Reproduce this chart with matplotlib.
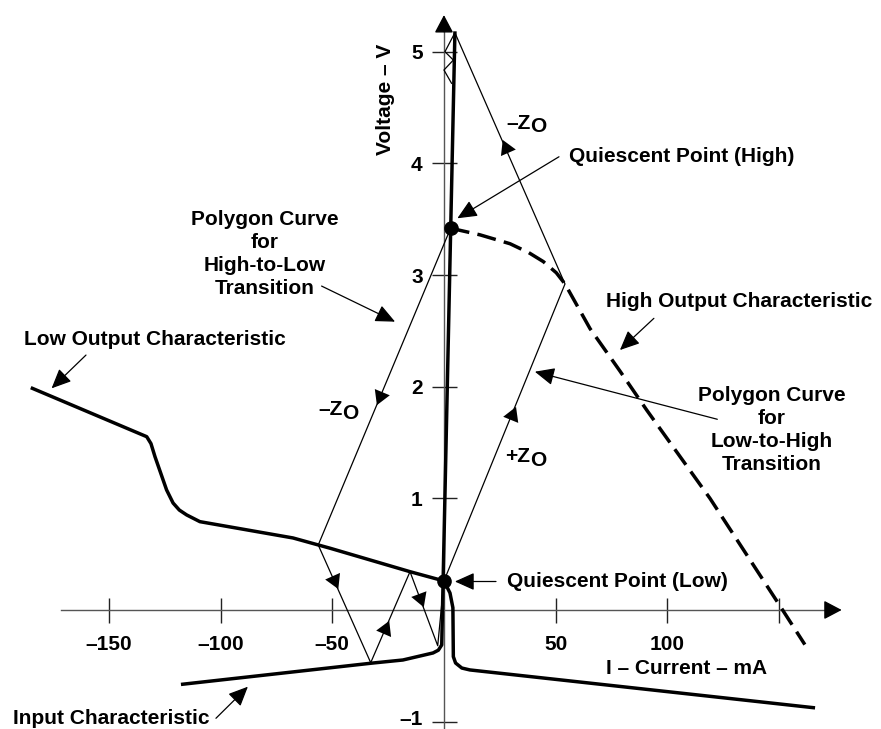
import numpy as np
import matplotlib.pyplot as plt
from matplotlib.transforms import ScaledTranslation

plt.rcParams['font.family'] = ['Liberation Sans', 'DejaVu Sans']
plt.rcParams['font.weight'] = 'bold'
plt.rcParams['font.size'] = 15

# I in mA, V in volts
low_i = [-184.3, -133.1, -131.2, -129.4, -124.2, -121.3, -118.5, -115.2, -109.3,
         -67.6, -51.0, -15.2, 0.0, 2.7, 4.0, 4.2, 5.2, 8.0, 11.6, 165.4]
low_v = [1.985, 1.552, 1.49, 1.373, 1.075, 0.958, 0.895, 0.851, 0.791,
         0.645, 0.553, 0.343, 0.26, 0.152, 0.02, -0.418, -0.475, -0.52, -0.537, -0.875]

inp_i = [-117.0, -31.8, -18.4, -4.9, -2.5, -1.0, 4.9]
inp_v = [-0.665, -0.475, -0.448, -0.385, -0.36, -0.313, 5.167]

high_i = [3.0, 7.2, 16.1, 29.6, 38.0, 44.5, 50.3, 54.2, 65.4, 78.8, 90.8, 119.1, 149.7, 161.6]
high_v = [3.42, 3.40, 3.36, 3.28, 3.20, 3.12, 3.02, 2.92, 2.52, 2.14, 1.79, 1.0, 0.06, -0.31]

q_low = (0.0, 0.26)
q_high = (3.0, 3.42)

# bounce polygons (load line slopes +/- Zo)
hl_i = [3.0, -56.3, -32.8, -15.2, -2.8, 0.0]
hl_v = [3.42, 0.582, -0.472, 0.343, -0.32, 0.26]
lh_i = [0.0, 54.2, 4.9, 0.45, 4.2, 0.0, 3.4]
lh_v = [0.26, 2.92, 5.17, 5.00, 4.925, 4.836, 4.717]

xticks = [-150, -100, -50, 50, 100, 150]
xlabels = ['\u2013150', '\u2013100', '\u201350', '50', '100', '']
yticks = [-1, 1, 2, 3, 4, 5]
ylabels = ['\u20131', '1', '2', '3', '4', '5']

fig = plt.figure(figsize=(8.81, 7.29), dpi=100)
ax = fig.add_axes([0, 0, 1, 1])
ax.set_xlim(-198.8, 195.7)
ax.set_ylim(-1.066, 5.463)

for s in ['top', 'right']:
    ax.spines[s].set_visible(False)
ax.spines['left'].set_position(('data', 0))
ax.spines['bottom'].set_position(('data', 0))
ax.spines['bottom'].set_bounds(-171.6, 172.0)
ax.spines['left'].set_bounds(-1.066, 5.2)
for s in ['left', 'bottom']:
    ax.spines[s].set_color('#555555')
    ax.spines[s].set_linewidth(1.0)

ax.set_xticks(xticks, xlabels)
ax.set_yticks(yticks, ylabels)
ax.tick_params(direction='inout', length=18, width=1.0, color='#222222', labelsize=15)
ax.tick_params(axis='x', pad=9)
ax.tick_params(axis='y', pad=6.3)

# the -1 label sits right on the bottom edge, lift it a little
lab = ax.get_yticklabels()[0]
lab.set_transform(lab.get_transform() + ScaledTranslation(0, 3 / 72, fig.dpi_scale_trans))

# axis arrowheads
axis_head = dict(arrowstyle='-|>,head_length=11,head_width=5.8', mutation_scale=1,
                 color='k', lw=1.0, shrinkA=0, shrinkB=0)
ax.annotate('', xy=(178.1, 0), xytext=(171.0, 0), arrowprops=axis_head)
ax.annotate('', xy=(0, 5.328), xytext=(0, 5.18), arrowprops=axis_head)

# characteristics
ax.plot(low_i, low_v, color='k', lw=2.5, solid_joinstyle='round', zorder=4)
ax.plot(inp_i, inp_v, color='k', lw=2.5, solid_joinstyle='round', zorder=4)
ax.plot(high_i, high_v, color='k', lw=2.5, dashes=(5.5, 2.4), zorder=4)

# polygons
ax.plot(hl_i, hl_v, color='k', lw=0.9, zorder=3)
ax.plot(lh_i, lh_v, color='k', lw=0.9, zorder=3)


def seg_arrow(xs, ys, k, t):
    x0, y0 = ax.transData.transform((xs[k], ys[k]))
    x1, y1 = ax.transData.transform((xs[k + 1], ys[k + 1]))
    ang = np.degrees(np.arctan2(y1 - y0, x1 - x0))
    xm = xs[k] + t * (xs[k + 1] - xs[k])
    ym = ys[k] + t * (ys[k + 1] - ys[k])
    ax.plot(xm, ym, marker=(3, 0, ang - 90), ms=13.5, color='k', mew=0, zorder=5)


seg_arrow(hl_i, hl_v, 0, 0.53)
seg_arrow(hl_i, hl_v, 1, 0.30)
seg_arrow(hl_i, hl_v, 2, 0.37)
seg_arrow(hl_i, hl_v, 3, 0.36)
seg_arrow(lh_i, lh_v, 0, 0.56)
seg_arrow(lh_i, lh_v, 1, 0.54)

# quiescent points
ax.plot(*q_low, 'o', color='k', ms=9.5, zorder=6)
ax.plot(*q_high, 'o', color='k', ms=9.5, zorder=6)

# callouts
pointer = dict(arrowstyle='-|>,head_length=12,head_width=5.4', mutation_scale=1,
               color='k', lw=0.9, shrinkA=0, shrinkB=0)
ax.annotate('', xy=(-175.7, 1.985), xytext=(-160.3, 2.283), arrowprops=pointer)
ax.text(-129.3, 2.418, 'Low Output Characteristic', ha='center', va='center')

ax.annotate('', xy=(-21.9, 2.582), xytext=(-54.8, 2.901), arrowprops=pointer)
ax.text(-80.1, 3.188, 'Polygon Curve\nfor\nHigh-to-Low\nTransition',
        ha='center', va='center', multialignment='center', linespacing=1.25)

ax.annotate('', xy=(6.0, 3.508), xytext=(51.5, 4.059), arrowprops=pointer)
ax.text(56.1, 4.059, 'Quiescent Point (High)', ha='left', va='center')

ax.annotate('', xy=(78.8, 2.328), xytext=(94.0, 2.612), arrowprops=pointer)
ax.text(132.2, 2.761, 'High Output Characteristic', ha='center', va='center')

ax.annotate('', xy=(40.7, 2.134), xytext=(122.4, 1.708), arrowprops=pointer)
ax.text(146.7, 1.612, 'Polygon Curve\nfor\nLow-to-High\nTransition',
        ha='center', va='center', multialignment='center', linespacing=1.25)

ax.annotate('', xy=(4.9, 0.255), xytext=(23.3, 0.255), arrowprops=pointer)
ax.text(28.2, 0.253, 'Quiescent Point (Low)', ha='left', va='center')

ax.annotate('', xy=(-87.8, -0.687), xytext=(-102.1, -0.970), arrowprops=pointer)
ax.text(-149.1, -0.970, 'Input Characteristic', ha='center', va='center')

ax.text(108.7, -0.522, 'I \u2013 Current \u2013 mA', ha='center', va='center')
ax.text(-26.4, 4.576, 'Voltage \u2013 V', ha='center', va='center', rotation=90)


def zo_label(x, y, sign):
    t = ax.text(x, y, sign + 'Z', ha='left', va='center')
    ax.annotate('O', xy=(1.0, 0.0), xycoords=t, xytext=(0, 4),
                textcoords='offset points', ha='left', va='center')


zo_label(27.8, 4.361, '\u2013')
zo_label(-56.4, 1.791, '\u2013')
zo_label(27.3, 1.373, '+')

fig.savefig('out.png', dpi=100)
